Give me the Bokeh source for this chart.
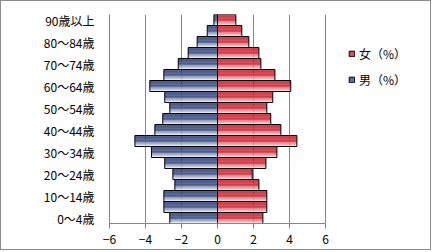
import numpy as np
from bokeh.plotting import figure
from bokeh.models import (ColumnDataSource, FixedTicker, Legend, LegendItem, Range1d)
from bokeh.embed import file_html
from bokeh.resources import INLINE

# ---- data (index 0 = youngest group) ----
age_groups = ["0〜4歳", "5〜9歳", "10〜14歳", "15〜19歳", "20〜24歳", "25〜29歳",
              "30〜34歳", "35〜39歳", "40〜44歳", "45〜49歳", "50〜54歳", "55〜59歳",
              "60〜64歳", "65〜69歳", "70〜74歳", "75〜79歳", "80〜84歳", "85〜89歳",
              "90歳以上"]
male_pct = [-2.65, -2.98, -2.98, -2.37, -2.48, -2.93, -3.67, -4.59, -3.48, -3.04,
            -2.65, -2.93, -3.76, -2.98, -2.18, -1.63, -1.13, -0.57, -0.20]
female_pct = [2.52, 2.74, 2.74, 2.30, 1.93, 2.69, 3.30, 4.41, 3.52, 2.96,
              2.74, 3.07, 4.07, 3.19, 2.41, 2.30, 1.74, 1.35, 1.02]
x_ticks = [-6, -4, -2, 0, 2, 4, 6]
series_labels = ["女（%）", "男（%）"]

FONT = "Noto Sans CJK JP"
GRID = "#868686"
N_STRIPS = 12

# frame: 216 px for the axis span -6..6, plus room on the right for the legend
AXIS_PX = 216
FRAME_W = 323
X_END = x_ticks[0] + (x_ticks[-1] - x_ticks[0]) * FRAME_W / AXIS_PX


def mix(c1, c2, t):
    a = np.array([int(c1[i:i + 2], 16) for i in (1, 3, 5)])
    b = np.array([int(c2[i:i + 2], 16) for i in (1, 3, 5)])
    c = (a + (b - a) * t).round().astype(int)
    return "#%02x%02x%02x" % tuple(c)


def strip_source(values, top_col, bot_col):
    ys, rights, lefts, cols = [], [], [], []
    h = 1.0 / N_STRIPS
    for i, v in enumerate(values):
        for k in range(N_STRIPS):
            t = (k / (N_STRIPS - 1)) ** 1.7
            ys.append(i + 0.5 - (k + 0.5) * h)
            lefts.append(min(0, v))
            rights.append(max(0, v))
            cols.append(mix(top_col, bot_col, t))
    return ColumnDataSource(dict(y=ys, left=lefts, right=rights, color=cols)), h


p = figure(width=431, height=250, output_backend="svg", toolbar_location=None,
           x_range=Range1d(x_ticks[0], X_END),
           y_range=Range1d(-0.5, len(age_groups) - 0.5),
           min_border_left=108, min_border_right=0, min_border_top=13,
           min_border_bottom=28)
p.styles = {"border": "1px solid #8c8c8c"}
p.outline_line_color = None
p.background_fill_color = "white"
p.border_fill_color = "white"

# gradient bars
src_m, hm = strip_source(male_pct, "#182c66", "#e2e7f3")
src_f, hf = strip_source(female_pct, "#c2081a", "#f5cfd3")
sm = p.hbar(y="y", left="left", right="right", height=hm, source=src_m,
            fill_color="color", line_color=None)
sf = p.hbar(y="y", left="left", right="right", height=hf, source=src_f,
            fill_color="color", line_color=None)

ys = list(range(len(age_groups)))
om = p.hbar(y=ys, left=male_pct, right=[0] * len(ys), height=1.0,
            fill_color=None, line_color="black", line_width=1)
of = p.hbar(y=ys, left=[0] * len(ys), right=female_pct, height=1.0,
            fill_color=None, line_color="black", line_width=1)

LEG_IDX = N_STRIPS // 2
legend = Legend(items=[LegendItem(label=series_labels[0], renderers=[sf, of], index=LEG_IDX),
                       LegendItem(label=series_labels[1], renderers=[sm, om], index=LEG_IDX)],
                location=(239, 135), padding=0, margin=0, spacing=9,
                glyph_width=7, glyph_height=7, label_height=14, label_standoff=4,
                label_text_font=FONT, label_text_font_size="12px",
                label_text_color="black", border_line_color=None,
                background_fill_color=None)
p.add_layout(legend, "center")

# axes
p.xaxis.ticker = FixedTicker(ticks=x_ticks)
p.xaxis.bounds = (x_ticks[0], x_ticks[-1])
p.xaxis.axis_line_color = GRID
p.xaxis.major_tick_line_color = GRID
p.xaxis.major_tick_out = 5
p.xaxis.major_tick_in = 0
p.xaxis.minor_tick_line_color = None
p.xaxis.major_label_standoff = 6
p.xaxis.major_label_text_font = FONT
p.xaxis.major_label_text_font_size = "12px"
p.xaxis.major_label_text_color = "black"

tick_idx = list(range(0, len(age_groups), 2))
p.yaxis.ticker = FixedTicker(ticks=tick_idx)
p.yaxis.major_label_overrides = {i: age_groups[i] for i in tick_idx}
p.yaxis.axis_line_color = GRID
p.yaxis.major_tick_line_color = None
p.yaxis.minor_tick_line_color = None
p.yaxis.major_label_standoff = 9
p.yaxis.major_label_text_font = FONT
p.yaxis.major_label_text_font_size = "12px"
p.yaxis.major_label_text_color = "black"

p.xgrid.ticker = FixedTicker(ticks=x_ticks)
p.xgrid.grid_line_color = GRID
p.ygrid.grid_line_color = None
p.xgrid.level = "underlay"

open("out.html", "w").write(file_html(p, INLINE))
